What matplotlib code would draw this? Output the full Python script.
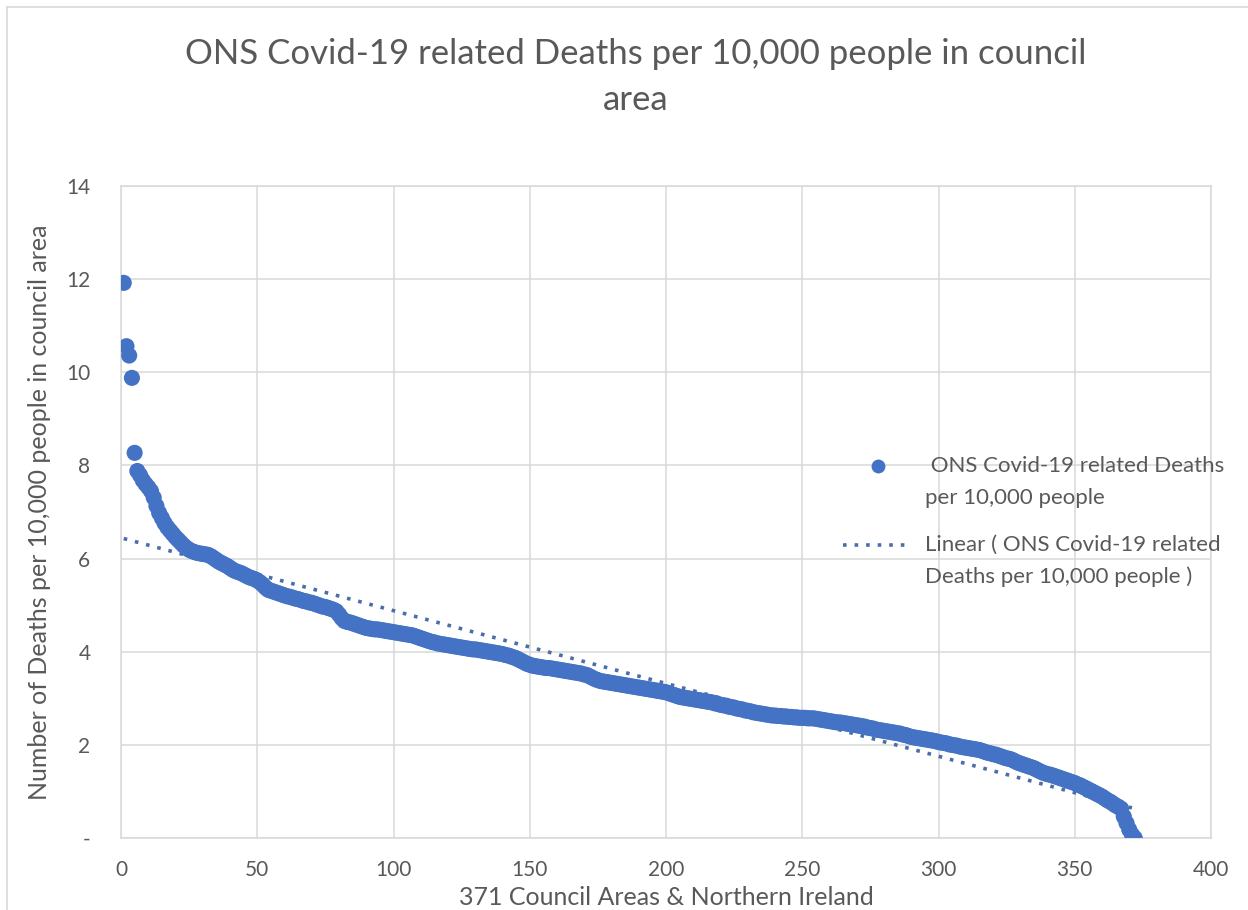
import numpy as np
import matplotlib
matplotlib.use("Agg")
import matplotlib.pyplot as plt
from matplotlib.lines import Line2D

# ---- data ----
deaths_per_10k = [
    11.92, 10.56, 10.36, 9.88, 8.27, 7.88, 7.79, 7.68, 7.60, 7.53,
    7.45, 7.31, 7.13, 6.98, 6.87, 6.76, 6.67, 6.60, 6.53, 6.46,
    6.40, 6.34, 6.28, 6.23, 6.19, 6.16, 6.14, 6.12, 6.11, 6.10,
    6.09, 6.08, 6.05, 6.01, 5.97, 5.93, 5.90, 5.87, 5.84, 5.80,
    5.76, 5.73, 5.71, 5.69, 5.66, 5.63, 5.60, 5.58, 5.56, 5.53,
    5.49, 5.44, 5.38, 5.33, 5.31, 5.29, 5.27, 5.25, 5.23, 5.21,
    5.19, 5.18, 5.16, 5.14, 5.13, 5.11, 5.09, 5.08, 5.06, 5.05,
    5.03, 5.01, 4.99, 4.97, 4.96, 4.94, 4.92, 4.90, 4.87, 4.80,
    4.72, 4.66, 4.64, 4.63, 4.61, 4.59, 4.57, 4.55, 4.53, 4.51,
    4.50, 4.49, 4.48, 4.48, 4.47, 4.46, 4.45, 4.44, 4.43, 4.42,
    4.41, 4.40, 4.39, 4.38, 4.37, 4.36, 4.35, 4.33, 4.31, 4.29,
    4.27, 4.25, 4.23, 4.21, 4.20, 4.18, 4.17, 4.16, 4.15, 4.14,
    4.13, 4.12, 4.11, 4.10, 4.09, 4.08, 4.07, 4.06, 4.05, 4.05,
    4.04, 4.03, 4.02, 4.01, 4.00, 3.99, 3.98, 3.97, 3.96, 3.95,
    3.93, 3.92, 3.90, 3.88, 3.86, 3.83, 3.80, 3.77, 3.74, 3.72,
    3.70, 3.69, 3.68, 3.67, 3.66, 3.65, 3.65, 3.64, 3.63, 3.62,
    3.61, 3.60, 3.59, 3.58, 3.57, 3.56, 3.55, 3.54, 3.53, 3.51,
    3.50, 3.47, 3.44, 3.41, 3.39, 3.37, 3.36, 3.35, 3.34, 3.33,
    3.32, 3.31, 3.30, 3.29, 3.28, 3.27, 3.26, 3.25, 3.24, 3.23,
    3.22, 3.21, 3.20, 3.19, 3.18, 3.17, 3.16, 3.15, 3.14, 3.13,
    3.11, 3.09, 3.07, 3.05, 3.03, 3.02, 3.01, 3.00, 2.99, 2.98,
    2.97, 2.96, 2.95, 2.94, 2.93, 2.92, 2.91, 2.89, 2.88, 2.86,
    2.85, 2.84, 2.82, 2.81, 2.80, 2.78, 2.77, 2.76, 2.74, 2.73,
    2.72, 2.70, 2.69, 2.68, 2.67, 2.66, 2.65, 2.64, 2.63, 2.63,
    2.62, 2.62, 2.61, 2.61, 2.60, 2.60, 2.59, 2.59, 2.58, 2.58,
    2.58, 2.57, 2.57, 2.57, 2.56, 2.55, 2.54, 2.53, 2.52, 2.51,
    2.50, 2.49, 2.48, 2.48, 2.47, 2.46, 2.45, 2.44, 2.43, 2.42,
    2.41, 2.40, 2.39, 2.37, 2.36, 2.35, 2.33, 2.32, 2.31, 2.30,
    2.29, 2.28, 2.27, 2.26, 2.25, 2.24, 2.22, 2.21, 2.19, 2.17,
    2.16, 2.15, 2.14, 2.13, 2.12, 2.11, 2.10, 2.09, 2.08, 2.06,
    2.05, 2.04, 2.03, 2.01, 2.00, 1.99, 1.98, 1.96, 1.95, 1.94,
    1.93, 1.92, 1.91, 1.90, 1.89, 1.87, 1.85, 1.83, 1.82, 1.80,
    1.79, 1.77, 1.75, 1.73, 1.71, 1.70, 1.68, 1.65, 1.62, 1.60,
    1.58, 1.56, 1.54, 1.52, 1.50, 1.47, 1.44, 1.41, 1.39, 1.37,
    1.36, 1.34, 1.32, 1.30, 1.28, 1.26, 1.24, 1.22, 1.20, 1.18,
    1.15, 1.13, 1.10, 1.07, 1.04, 1.01, 0.98, 0.95, 0.92, 0.89,
    0.85, 0.81, 0.78, 0.74, 0.70, 0.67, 0.63, 0.46, 0.32, 0.18,
    0.07, 0.00,
]
council_rank = list(range(1, len(deaths_per_10k) + 1))

x_ticks = [0, 50, 100, 150, 200, 250, 300, 350, 400]
y_ticks = [0, 2, 4, 6, 8, 10, 12, 14]
y_tick_labels = ["-", "2", "4", "6", "8", "10", "12", "14"]

title = "ONS Covid-19 related Deaths per 10,000 people in council\narea"
x_label = "371 Council Areas & Northern Ireland"
y_label = "Number of Deaths per 10,000 people in council area"
series_label = " ONS Covid-19 related Deaths\nper 10,000 people"
trend_label = "Linear ( ONS Covid-19 related\nDeaths per 10,000 people )"

# ---- styling ----
FONT = "Lato"
BLUE = "#4472C4"
TREND = "#4a6fa8"
TEXT = "#595959"
GRID = "#D9D9D9"
W, H = 1248, 910

plt.rcParams["font.family"] = [FONT, "DejaVu Sans"]

fig = plt.figure(figsize=(W / 100, H / 100), dpi=100)
ax = fig.add_axes([121 / W, 1 - 838 / H, 1090 / W, 652 / H])

x = np.array(council_rank, dtype=float)
y = np.array(deaths_per_10k, dtype=float)

ax.scatter(x, y, s=135, color=BLUE, edgecolors="none", zorder=3)

# linear trend line (least squares, like Excel)
slope, intercept = np.polyfit(x, y, 1)
xt = np.array([x.min(), x.max()])
trend_style = dict(linestyle=(0, (1, 2.2)), color=TREND, linewidth=2.6)
ax.plot(xt, slope * xt + intercept, zorder=2, **trend_style)

ax.set_xlim(0, 400)
ax.set_ylim(0, 14)
ax.set_xticks(x_ticks)
ax.set_yticks(y_ticks)
ax.set_yticklabels(y_tick_labels)
ax.grid(True, color=GRID, linewidth=1.1, zorder=0)
ax.set_axisbelow(True)
for s in ax.spines.values():
    s.set_color(GRID)
    s.set_linewidth(1.1)
ax.tick_params(axis="both", length=0, labelsize=15, colors=TEXT)
ax.tick_params(axis="y", pad=22)
ax.tick_params(axis="x", pad=16)

ax.set_xlabel(x_label, fontsize=18, color=TEXT, labelpad=4)
ax.set_ylabel(y_label, fontsize=18, color=TEXT, labelpad=11)

fig.text(636 / W, 1 - 77 / H, title, ha="center", va="center",
         fontsize=25, color=TEXT, linespacing=1.55)


def px(xp, yp):
    return xp / W, 1 - yp / H


# legend (transparent, symbol aligned with the first text line, Excel style)
mx, my = px(878, 466)
fig.add_artist(Line2D([mx], [my], transform=fig.transFigure, linestyle="none",
                      marker="o", markersize=10, color=BLUE,
                      markeredgecolor="none"))
lx0, ly = px(843, 545)
lx1, _ = px(910, 545)
fig.add_artist(Line2D([lx0, lx1], [ly, ly], transform=fig.transFigure,
                      **trend_style))
for label, y0 in ((series_label, 466), (trend_label, 545)):
    for i, line in enumerate(label.split("\n")):
        tx, ty = px(925, y0 + 32 * i)
        fig.text(tx, ty, line, ha="left", va="center", fontsize=16,
                 color=TEXT)

# light outer chart border (top and left visible)
fig.add_artist(Line2D([7 / W, 1], [1 - 7 / H, 1 - 7 / H],
                      transform=fig.transFigure, color=GRID, linewidth=1.2))
fig.add_artist(Line2D([7 / W, 7 / W], [0, 1 - 7 / H],
                      transform=fig.transFigure, color=GRID, linewidth=1.2))

fig.savefig("out.png", dpi=100, facecolor="white")
